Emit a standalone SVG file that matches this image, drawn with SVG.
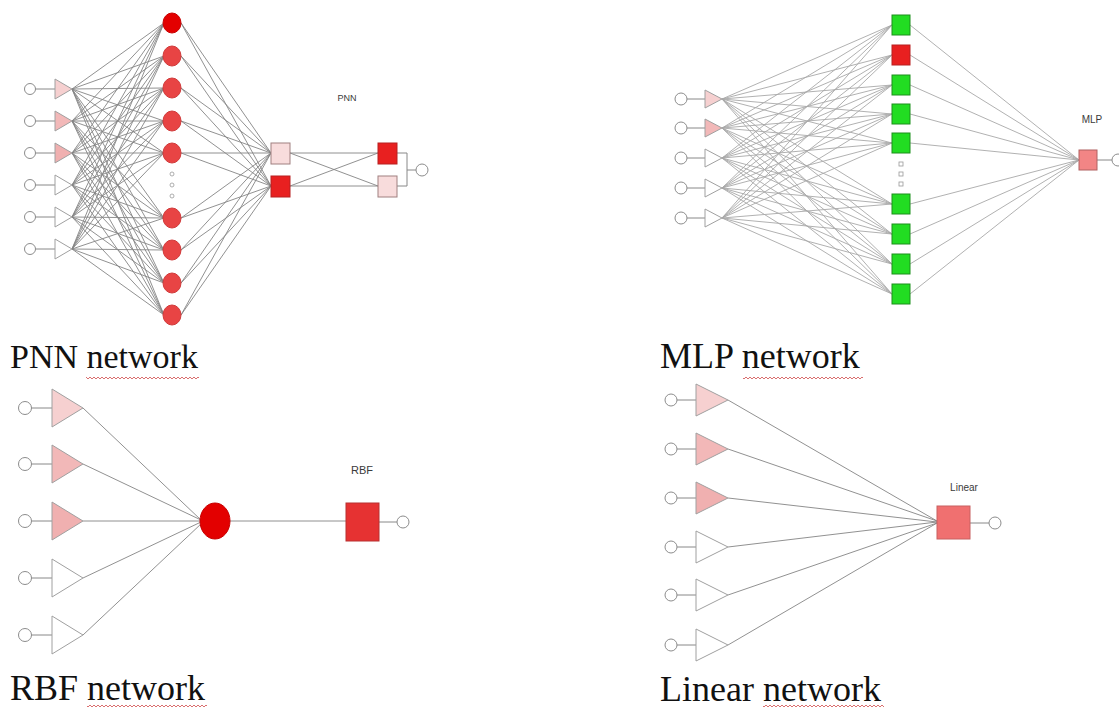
<svg xmlns="http://www.w3.org/2000/svg" width="1119" height="708" viewBox="0 0 1119 708">
  <style>
    .wire { fill: none; stroke: #858585; stroke-width: 0.9; }
    .wire-l { fill: none; stroke: #a8a8a8; stroke-width: 0.9; }
    .stub { fill: none; stroke: #888; stroke-width: 1; }
    .io { fill: #fff; stroke: #8c8c8c; stroke-width: 1; }
    .tri { stroke: #a0a0a0; stroke-width: 1; }
    .tri-w { fill: #fff; }
    .tri-p1 { fill: #f6d0d0; }
    .tri-p2 { fill: #f2b8b8; }
    .tri-p3 { fill: #f0b0b0; }
    .rcirc { fill: #e84444; stroke: #d03a3a; stroke-width: 1; }
    .rcirc-d { fill: #e30000; stroke: #c80000; stroke-width: 1; }
    .sq-red { fill: #e82020; stroke: #b82020; stroke-width: 1; }
    .sq-pale { fill: #f8dcdc; stroke: #a08080; stroke-width: 1; }
    .sq-green { fill: #22dd22; stroke: #1c8f1c; stroke-width: 1; }
    .sq-salmon { fill: #f28585; stroke: #b06060; stroke-width: 1; }
    .dot { fill: #fff; stroke: #9a9a9a; stroke-width: 0.8; }
    .lbl { font-family: "Liberation Sans", Arial, sans-serif; fill: #3a3a3a; }
    .cap { font-family: "Liberation Serif", "Times New Roman", serif; font-size: 36px; fill: #111; }
    .cap-s { font-size: 34px; }
  </style>
  <defs>
    <pattern id="squig" width="4" height="4" patternUnits="userSpaceOnUse">
      <path d="M0 3 L2 1 L4 3" fill="none" stroke="#d04a4a" stroke-width="0.8"/>
    </pattern>
  </defs>

  <rect width="1119" height="708" fill="#fff"/>

  <!-- connectors -->
  <g id="connectors">
    <!-- PNN: inputs to pattern units -->
    <path class="wire" d="
      M72 89L164 23M72 89L164 56M72 89L164 88M72 89L164 121M72 89L164 153M72 89L164 218M72 89L164 250M72 89L164 283M72 89L164 315
      M72 121L164 23M72 121L164 56M72 121L164 88M72 121L164 121M72 121L164 153M72 121L164 218M72 121L164 250M72 121L164 283M72 121L164 315
      M72 153L164 23M72 153L164 56M72 153L164 88M72 153L164 121M72 153L164 153M72 153L164 218M72 153L164 250M72 153L164 283M72 153L164 315
      M72 185L164 23M72 185L164 56M72 185L164 88M72 185L164 121M72 185L164 153M72 185L164 218M72 185L164 250M72 185L164 283M72 185L164 315
      M72 217L164 23M72 217L164 56M72 217L164 88M72 217L164 121M72 217L164 153M72 217L164 218M72 217L164 250M72 217L164 283M72 217L164 315
      M72 249L164 23M72 249L164 56M72 249L164 88M72 249L164 121M72 249L164 153M72 249L164 218M72 249L164 250M72 249L164 283M72 249L164 315"/>
    <!-- PNN: pattern units to summation units -->
    <path class="wire" d="
      M181 23L271 153M181 56L271 153M181 88L271 153M181 121L271 153M181 153L271 153M181 218L271 153M181 250L271 153M181 283L271 153M181 315L271 153
      M181 23L271 186M181 56L271 186M181 88L271 186M181 121L271 186M181 153L271 186M181 218L271 186M181 250L271 186M181 283L271 186M181 315L271 186"/>
    <!-- PNN: summation to output -->
    <path class="wire" d="M290 153L378 153M290 153L378 186M290 186L378 153M290 186L378 186"/>
    <path class="stub" d="M397 153H407V186H397M407 170H416"/>

    <!-- MLP: inputs to hidden -->
    <path class="wire-l" d="
      M722 99L892 25M722 99L892 55M722 99L892 85M722 99L892 114M722 99L892 143M722 99L892 204M722 99L892 234M722 99L892 264M722 99L892 294
      M722 128L892 25M722 128L892 55M722 128L892 85M722 128L892 114M722 128L892 143M722 128L892 204M722 128L892 234M722 128L892 264M722 128L892 294
      M722 158L892 25M722 158L892 55M722 158L892 85M722 158L892 114M722 158L892 143M722 158L892 204M722 158L892 234M722 158L892 264M722 158L892 294
      M722 188L892 25M722 188L892 55M722 188L892 85M722 188L892 114M722 188L892 143M722 188L892 204M722 188L892 234M722 188L892 264M722 188L892 294
      M722 218L892 25M722 218L892 55M722 218L892 85M722 218L892 114M722 218L892 143M722 218L892 204M722 218L892 234M722 218L892 264M722 218L892 294"/>
    <!-- MLP: hidden to output -->
    <path class="wire-l" d="M910 25L1079 160M910 55L1079 160M910 85L1079 160M910 114L1079 160M910 143L1079 160M910 204L1079 160M910 234L1079 160M910 264L1079 160M910 294L1079 160"/>
    <path class="stub" d="M1097 160H1112"/>

    <!-- RBF -->
    <path class="wire" d="M83 408L201 520M83 464L201 520M83 521L200 521M83 578L201 522M83 635L202 523"/>
    <path class="wire" d="M230 521H346"/>
    <path class="stub" d="M379 522H397"/>

    <!-- Linear -->
    <path class="wire" d="M728 400L937 521M728 449L937 521M728 498L937 522M728 547L937 522M728 595L937 523M728 645L937 523"/>
    <path class="stub" d="M970 523H989"/>
  </g>

  <!-- PNN network -->
  <g id="pnn-inputs">
    <g id="pnn-in1"><circle class="io" cx="30" cy="89" r="5.5"/><path class="stub" d="M35.5 89H55"/><polygon class="tri tri-p1" points="55,79 72,89 55,99"/></g>
    <g id="pnn-in2"><circle class="io" cx="30" cy="121" r="5.5"/><path class="stub" d="M35.5 121H55"/><polygon class="tri tri-p2" points="55,111 72,121 55,131"/></g>
    <g id="pnn-in3"><circle class="io" cx="30" cy="153" r="5.5"/><path class="stub" d="M35.5 153H55"/><polygon class="tri tri-p3" points="55,143 72,153 55,163"/></g>
    <g id="pnn-in4"><circle class="io" cx="30" cy="185" r="5.5"/><path class="stub" d="M35.5 185H55"/><polygon class="tri tri-w" points="55,175 72,185 55,195"/></g>
    <g id="pnn-in5"><circle class="io" cx="30" cy="217" r="5.5"/><path class="stub" d="M35.5 217H55"/><polygon class="tri tri-w" points="55,207 72,217 55,227"/></g>
    <g id="pnn-in6"><circle class="io" cx="30" cy="249" r="5.5"/><path class="stub" d="M35.5 249H55"/><polygon class="tri tri-w" points="55,239 72,249 55,259"/></g>
  </g>
  <g id="pnn-pattern">
    <ellipse id="pnn-h1" class="rcirc-d" cx="172" cy="23" rx="9" ry="10"/>
    <ellipse id="pnn-h2" class="rcirc" cx="172" cy="56" rx="9" ry="10"/>
    <ellipse id="pnn-h3" class="rcirc" cx="172" cy="88" rx="9" ry="10"/>
    <ellipse id="pnn-h4" class="rcirc" cx="172" cy="121" rx="9" ry="10"/>
    <ellipse id="pnn-h5" class="rcirc" cx="172" cy="153" rx="9" ry="10"/>
    <g id="pnn-ellipsis"><circle class="dot" cx="172" cy="174" r="2"/><circle class="dot" cx="172" cy="185" r="2"/><circle class="dot" cx="172" cy="196" r="2"/></g>
    <ellipse id="pnn-h6" class="rcirc" cx="172" cy="218" rx="9" ry="10"/>
    <ellipse id="pnn-h7" class="rcirc" cx="172" cy="250" rx="9" ry="10"/>
    <ellipse id="pnn-h8" class="rcirc" cx="172" cy="283" rx="9" ry="10"/>
    <ellipse id="pnn-h9" class="rcirc" cx="172" cy="315" rx="9" ry="10"/>
  </g>
  <g id="pnn-summation">
    <rect class="sq-pale" x="271" y="143" width="19" height="21"/>
    <rect class="sq-red" x="271" y="176" width="19" height="21"/>
  </g>
  <g id="pnn-output">
    <rect class="sq-red" x="378" y="143" width="19" height="21"/>
    <rect class="sq-pale" x="378" y="176" width="19" height="21"/>
    <circle class="io" cx="422" cy="170" r="6"/>
  </g>
  <text id="pnn-label" class="lbl" x="347" y="101" font-size="9" text-anchor="middle">PNN</text>

  <!-- MLP network -->
  <g id="mlp-inputs">
    <g id="mlp-in1"><circle class="io" cx="681" cy="99" r="6"/><path class="stub" d="M687 99H705"/><polygon class="tri tri-p1" points="705,90 722,99 705,108"/></g>
    <g id="mlp-in2"><circle class="io" cx="681" cy="128" r="6"/><path class="stub" d="M687 128H705"/><polygon class="tri tri-p2" points="705,119 722,128 705,137"/></g>
    <g id="mlp-in3"><circle class="io" cx="681" cy="158" r="6"/><path class="stub" d="M687 158H705"/><polygon class="tri tri-w" points="705,149 722,158 705,167"/></g>
    <g id="mlp-in4"><circle class="io" cx="681" cy="188" r="6"/><path class="stub" d="M687 188H705"/><polygon class="tri tri-w" points="705,179 722,188 705,197"/></g>
    <g id="mlp-in5"><circle class="io" cx="681" cy="218" r="6"/><path class="stub" d="M687 218H705"/><polygon class="tri tri-w" points="705,209 722,218 705,227"/></g>
  </g>
  <g id="mlp-hidden">
    <rect class="sq-green" x="892" y="15" width="18" height="20"/>
    <rect class="sq-red" x="892" y="45" width="18" height="20"/>
    <rect class="sq-green" x="892" y="75" width="18" height="20"/>
    <rect class="sq-green" x="892" y="104" width="18" height="20"/>
    <rect class="sq-green" x="892" y="133" width="18" height="20"/>
    <g id="mlp-ellipsis"><rect class="dot" x="899" y="162" width="4" height="4"/><rect class="dot" x="899" y="172" width="4" height="4"/><rect class="dot" x="899" y="182" width="4" height="4"/></g>
    <rect class="sq-green" x="892" y="194" width="18" height="20"/>
    <rect class="sq-green" x="892" y="224" width="18" height="20"/>
    <rect class="sq-green" x="892" y="254" width="18" height="20"/>
    <rect class="sq-green" x="892" y="284" width="18" height="20"/>
  </g>
  <g id="mlp-output">
    <rect class="sq-salmon" x="1079" y="150" width="18" height="20"/>
    <circle class="io" cx="1118" cy="160" r="6"/>
  </g>
  <text id="mlp-label" class="lbl" x="1092" y="123" font-size="10" text-anchor="middle">MLP</text>

  <!-- RBF network -->
  <g id="rbf-inputs">
    <g id="rbf-in1"><circle class="io" cx="25" cy="408" r="6.5"/><path class="stub" d="M31.5 408H52"/><polygon class="tri tri-p1" points="52,389 83,408 52,427"/></g>
    <g id="rbf-in2"><circle class="io" cx="25" cy="464" r="6.5"/><path class="stub" d="M31.5 464H52"/><polygon class="tri tri-p2" points="52,445 83,464 52,483"/></g>
    <g id="rbf-in3"><circle class="io" cx="25" cy="521" r="6.5"/><path class="stub" d="M31.5 521H52"/><polygon class="tri tri-p3" points="52,502 83,521 52,540"/></g>
    <g id="rbf-in4"><circle class="io" cx="25" cy="578" r="6.5"/><path class="stub" d="M31.5 578H52"/><polygon class="tri tri-w" points="52,559 83,578 52,597"/></g>
    <g id="rbf-in5"><circle class="io" cx="25" cy="635" r="6.5"/><path class="stub" d="M31.5 635H52"/><polygon class="tri tri-w" points="52,616 83,635 52,654"/></g>
  </g>
  <g id="rbf-hidden">
    <ellipse class="rcirc-d" cx="215" cy="521" rx="15" ry="18"/>
  </g>
  <g id="rbf-output">
    <rect x="346" y="503" width="33" height="38" fill="#e63232" stroke="#b83030" stroke-width="1"/>
    <circle class="io" cx="403" cy="522" r="6"/>
  </g>
  <text id="rbf-label" class="lbl" x="362" y="474" font-size="11" text-anchor="middle">RBF</text>

  <!-- Linear network -->
  <g id="lin-inputs">
    <g id="lin-in1"><circle class="io" cx="671" cy="400" r="6"/><path class="stub" d="M677 400H696"/><polygon class="tri tri-p1" points="696,384 728,400 696,416"/></g>
    <g id="lin-in2"><circle class="io" cx="671" cy="449" r="6"/><path class="stub" d="M677 449H696"/><polygon class="tri tri-p2" points="696,433 728,449 696,465"/></g>
    <g id="lin-in3"><circle class="io" cx="671" cy="498" r="6"/><path class="stub" d="M677 498H696"/><polygon class="tri tri-p3" points="696,482 728,498 696,514"/></g>
    <g id="lin-in4"><circle class="io" cx="671" cy="547" r="6"/><path class="stub" d="M677 547H696"/><polygon class="tri tri-w" points="696,531 728,547 696,563"/></g>
    <g id="lin-in5"><circle class="io" cx="671" cy="595" r="6"/><path class="stub" d="M677 595H696"/><polygon class="tri tri-w" points="696,579 728,595 696,611"/></g>
    <g id="lin-in6"><circle class="io" cx="671" cy="645" r="6"/><path class="stub" d="M677 645H696"/><polygon class="tri tri-w" points="696,629 728,645 696,661"/></g>
  </g>
  <g id="lin-output">
    <rect x="937" y="506" width="33" height="33" fill="#f07070" stroke="#c86060" stroke-width="1"/>
    <circle class="io" cx="995" cy="523" r="6"/>
  </g>
  <text id="lin-label" class="lbl" x="964" y="491" font-size="10" text-anchor="middle">Linear</text>

  <!-- captions with proofing underline -->
  <g id="captions">
    <text class="cap cap-s" x="10" y="368">PNN network</text>
    <rect x="86" y="375" width="113" height="4" fill="url(#squig)"/>
    <text class="cap" x="660" y="368">MLP network</text>
    <rect x="743" y="375" width="120" height="4" fill="url(#squig)"/>
    <text class="cap" x="10" y="700">RBF network</text>
    <rect x="87" y="703" width="120" height="4" fill="url(#squig)"/>
    <text class="cap" x="660" y="701">Linear network</text>
    <rect x="763" y="703" width="121" height="4" fill="url(#squig)"/>
  </g>
</svg>
